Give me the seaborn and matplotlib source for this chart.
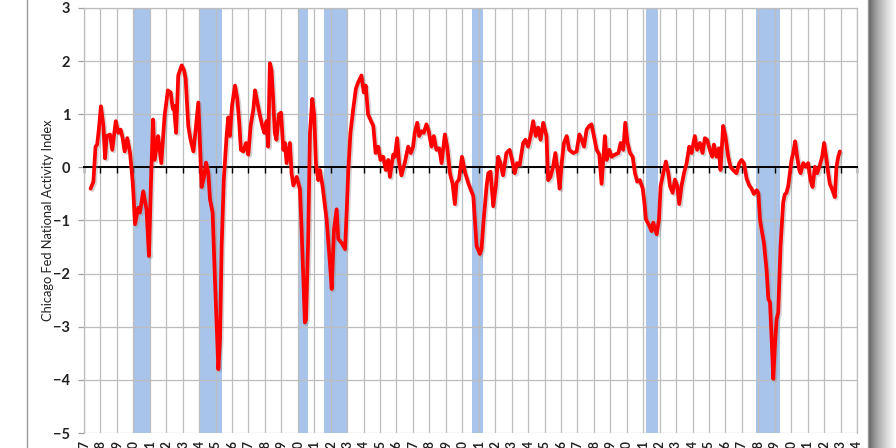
import numpy as np
import matplotlib
matplotlib.use('Agg')
import matplotlib.pyplot as plt
import matplotlib.patheffects as pe
from matplotlib.patches import Rectangle
import seaborn as sns

# values (year, index value)
years = [
    1967.40, 1967.57, 1967.70, 1967.80, 1967.90, 1968.03, 1968.18, 1968.28, 1968.38, 1968.58,
    1968.72, 1968.93, 1969.09, 1969.23, 1969.35, 1969.47, 1969.63, 1969.80, 1969.96, 1970.00,
    1970.10, 1970.30, 1970.40, 1970.60, 1970.80, 1970.95, 1971.07, 1971.20, 1971.30, 1971.50,
    1971.70, 1971.90, 1972.10, 1972.27, 1972.40, 1972.47, 1972.60, 1972.73, 1972.94, 1973.08,
    1973.18, 1973.34, 1973.48, 1973.65, 1973.75, 1973.95, 1974.05, 1974.15, 1974.30, 1974.42,
    1974.56, 1974.66, 1974.82, 1974.96, 1975.17, 1975.27, 1975.37, 1975.50, 1975.67, 1975.77,
    1975.87, 1976.00, 1976.18, 1976.32, 1976.44, 1976.54, 1976.69, 1976.85, 1976.99, 1977.13,
    1977.30, 1977.40, 1977.54, 1977.70, 1977.84, 1977.96, 1978.10, 1978.20, 1978.30, 1978.40,
    1978.50, 1978.60, 1978.70, 1978.85, 1978.98, 1979.12, 1979.22, 1979.32, 1979.52, 1979.62,
    1979.73, 1979.93, 1980.13, 1980.23, 1980.43, 1980.50, 1980.62, 1980.74, 1980.88, 1981.00,
    1981.10, 1981.24, 1981.34, 1981.50, 1981.75, 1981.95, 1982.06, 1982.20, 1982.36, 1982.46,
    1982.66, 1982.87, 1982.97, 1983.07, 1983.20, 1983.37, 1983.53, 1983.67, 1983.87, 1984.01,
    1984.13, 1984.27, 1984.41, 1984.59, 1984.73, 1984.89, 1985.03, 1985.19, 1985.35, 1985.50,
    1985.60, 1985.80, 1985.90, 1986.04, 1986.16, 1986.30, 1986.50, 1986.71, 1986.87, 1987.01,
    1987.11, 1987.26, 1987.38, 1987.52, 1987.66, 1987.82, 1987.96, 1988.13, 1988.27, 1988.43,
    1988.60, 1988.74, 1988.94, 1989.08, 1989.25, 1989.41, 1989.55, 1989.65, 1989.80, 1989.98,
    1990.18, 1990.38, 1990.67, 1990.87, 1991.07, 1991.17, 1991.30, 1991.48, 1991.58, 1991.72,
    1991.88, 1992.04, 1992.18, 1992.32, 1992.48, 1992.68, 1992.88, 1993.03, 1993.19, 1993.33,
    1993.49, 1993.70, 1993.84, 1994.00, 1994.15, 1994.31, 1994.47, 1994.61, 1994.76, 1994.92,
    1995.12, 1995.22, 1995.36, 1995.52, 1995.66, 1995.82, 1995.92, 1996.05, 1996.18, 1996.35,
    1996.50, 1996.75, 1996.95, 1997.12, 1997.26, 1997.40, 1997.56, 1997.72, 1997.86, 1998.03,
    1998.17, 1998.33, 1998.47, 1998.67, 1998.78, 1998.94, 1999.08, 1999.28, 1999.49, 1999.63,
    1999.79, 1999.91, 2000.05, 2000.20, 2000.36, 2000.50, 2000.64, 2000.80, 2000.97, 2001.05,
    2001.17, 2001.37, 2001.51, 2001.61, 2001.82, 2001.96, 2002.06, 2002.22, 2002.38, 2002.53,
    2002.63, 2002.79, 2002.93, 2003.07, 2003.19, 2003.33, 2003.48, 2003.64, 2003.80, 2003.94,
    2004.14, 2004.28, 2004.45, 2004.61, 2004.75, 2004.89, 2005.05, 2005.20, 2005.30, 2005.46,
    2005.60, 2005.70, 2005.86, 2006.00, 2006.17, 2006.31, 2006.47, 2006.67, 2006.84, 2006.98,
    2007.12, 2007.29, 2007.45, 2007.59, 2007.73, 2007.90, 2008.00, 2008.10, 2008.20, 2008.34,
    2008.50, 2008.61, 2008.71, 2008.81, 2008.91, 2009.01, 2009.11, 2009.21, 2009.35, 2009.51,
    2009.61, 2009.71, 2009.82, 2009.92, 2010.02, 2010.12, 2010.24, 2010.36, 2010.49, 2010.57,
    2010.73, 2010.89, 2011.03, 2011.17, 2011.30, 2011.44, 2011.58, 2011.74, 2011.88, 2012.00,
    2012.15, 2012.25, 2012.35, 2012.51, 2012.65, 2012.75, 2012.86, 2012.96,
]
cfnai = [
    -0.40, -0.27, 0.39, 0.43, 0.71, 1.15, 0.78, 0.17, 0.59, 0.62,
    0.33, 0.87, 0.65, 0.71, 0.55, 0.30, 0.55, 0.27, -0.27, -0.47,
    -1.07, -0.76, -0.85, -0.45, -0.79, -1.67, -0.30, 0.90, 0.14, 0.59,
    0.08, 0.97, 1.45, 1.41, 1.10, 1.16, 0.65, 1.73, 1.92, 1.83,
    1.67, 0.78, 0.52, 0.30, 0.59, 1.22, 0.46, -0.37, -0.18, 0.09,
    -0.11, -0.60, -0.85, -2.10, -3.80, -3.23, -1.48, -0.23, 0.59, 0.94,
    0.59, 1.16, 1.54, 1.29, 0.84, 0.33, 0.30, 0.46, 0.24, 0.78,
    1.10, 1.45, 1.22, 0.97, 0.78, 0.65, 0.87, 0.39, 1.96, 1.83,
    1.29, 0.65, 0.52, 1.00, 1.03, 0.33, 0.46, 0.08, 0.46, -0.11,
    -0.34, -0.18, -0.41, -1.17, -2.92, -2.86, -1.48, 0.65, 1.29, 0.97,
    0.08, -0.24, -0.05, -0.34, -0.98, -1.79, -2.29, -1.17, -0.79, -1.35,
    -1.42, -1.54, -0.85, -0.05, 0.65, 1.10, 1.48, 1.60, 1.73, 1.41,
    1.54, 1.00, 0.90, 0.78, 0.27, 0.39, 0.14, 0.20, -0.05, 0.14,
    -0.18, 0.24, 0.20, 0.55, 0.08, -0.15, 0.08, 0.39, 0.27, 0.39,
    0.65, 0.84, 0.59, 0.68, 0.65, 0.81, 0.68, 0.39, 0.59, 0.33,
    0.36, 0.08, 0.62, 0.39, -0.11, -0.31, -0.69, -0.29, -0.23, 0.20,
    -0.11, -0.31, -0.54, -1.48, -1.63, -1.54, -0.98, -0.35, -0.11, -0.08,
    -0.73, -0.35, 0.20, 0.08, -0.15, 0.27, 0.33, 0.14, -0.11, 0.08,
    0.04, 0.46, 0.52, 0.39, 0.59, 0.87, 0.59, 0.75, 0.52, 0.84,
    0.59, -0.24, -0.18, 0.01, 0.27, -0.11, -0.40, 0.10, 0.46, 0.59,
    0.33, 0.27, 0.30, 0.62, 0.52, 0.39, 0.71, 0.78, 0.81, 0.55,
    0.33, 0.24, -0.31, 0.59, 0.14, 0.33, 0.20, 0.24, 0.27, 0.46,
    0.33, 0.84, 0.46, 0.27, 0.20, -0.11, -0.27, -0.24, -0.40, -0.60,
    -0.98, -1.10, -1.20, -1.04, -1.26, -0.98, -0.35, -0.11, 0.11, -0.11,
    -0.35, -0.48, -0.23, -0.35, -0.69, -0.35, -0.11, 0.08, 0.39, 0.27,
    0.59, 0.33, 0.46, 0.27, 0.55, 0.52, 0.33, 0.20, 0.43, 0.20,
    0.36, -0.05, 0.78, 0.59, 0.20, 0.01, -0.05, -0.11, 0.08, 0.14,
    0.08, -0.21, -0.34, -0.40, -0.50, -0.43, -0.48, -0.98, -1.17, -1.42,
    -1.92, -2.48, -2.54, -3.23, -3.98, -3.36, -2.86, -2.73, -1.48, -0.66,
    -0.51, -0.48, -0.35, -0.11, 0.14, 0.27, 0.49, 0.20, -0.05, -0.11,
    0.08, 0.01, 0.08, -0.24, -0.37, 0.01, -0.11, 0.04, 0.20, 0.46,
    0.14, -0.11, -0.31, -0.43, -0.56, 0.01, 0.20, 0.30,
]

# recession bands (start, end) as drawn in the reference
rec_start = [1970.0, 1974.0, 1980.08, 1981.58, 1990.6, 2001.16, 2007.85]
rec_end = [1971.05, 1975.37, 1980.65, 1983.03, 1991.26, 2001.93, 2009.3]

tick_years = list(range(1967, 2015))
tick_labels = [str(y) for y in tick_years]
y_ticks = [3, 2, 1, 0, -1, -2, -3, -4, -5]

sns.set_theme(style='whitegrid')
plt.rcParams['font.family'] = ['Lato', 'DejaVu Sans']

W, H = 896, 448
fig = plt.figure(figsize=(W / 100, H / 100), dpi=100)
fig.patch.set_facecolor('white')

# chart frame and its drop shadow on the right
fig.patches.append(Rectangle((27 / W, -0.05), (868 - 27) / W, 1.1,
                             transform=fig.transFigure, fill=False,
                             ec='#9c9c9c', lw=1.0, zorder=0))
sh = fig.add_axes([868 / W, 0, 28 / W, 1])
grad = np.linspace(0, 1, 64) ** 0.6
sh.imshow(np.tile(0.28 + 0.72 * grad, (8, 1)), cmap='gray', vmin=0, vmax=1,
          aspect='auto', extent=[0, 1, 0, 1])
sh.axis('off')

ax = fig.add_axes([84 / W, 15 / H, 773 / W, 425 / H])
ax.set_facecolor('white')

for s, e in zip(rec_start, rec_end):
    ax.axvspan(s, e, color='#a8c4ea', lw=0, zorder=0.3)

sns.lineplot(x=years, y=cfnai, ax=ax, color='#ff0000', lw=2.7, zorder=3,
             path_effects=[pe.SimpleLineShadow(offset=(1.2, -1.2), shadow_color='#888888', alpha=0.35),
                           pe.Normal()])

ax.set_xlim(1967, 2014)
ax.set_ylim(-5, 3)
ax.set_yticks(y_ticks)
ax.set_xticks(tick_years)
ax.grid(True, color='#bdbdbd', lw=0.9)
ax.set_axisbelow(True)

# x axis sits on the zero line with small ticks below it
ax.spines['bottom'].set_position(('data', 0))
ax.spines['bottom'].set_color('black')
ax.spines['bottom'].set_linewidth(1.4)
ax.spines['bottom'].set_zorder(2.6)
for side in ['left', 'right', 'top']:
    ax.spines[side].set_color('#bdbdbd')
    ax.spines[side].set_linewidth(0.9)
ax.tick_params(axis='x', which='major', bottom=True, direction='out', length=4,
               width=1.0, color='black', labelbottom=False)
ax.tick_params(axis='y', left=True, length=4, width=0.9, color='#a0a0a0', pad=6)
for lab in ax.get_yticklabels():
    lab.set_fontweight('bold')
    lab.set_fontsize(10.5)
    lab.set_color('#222222')

# year labels at the bottom of the plot area
sec = ax.secondary_xaxis('bottom')
sec.set_xticks(tick_years)
sec.set_xticklabels(tick_labels, rotation=90, fontsize=9, fontweight='bold', color='#222222')
sec.tick_params(length=0, pad=5)
sec.spines['bottom'].set_visible(False)

ax.set_ylabel('Chicago Fed National Activity Index', fontsize=9.3, color='#222222')
ax.yaxis.set_label_coords(-(84 - 54) / 773, 0.5)
ax.set_xlabel('')

fig.savefig('out.png', dpi=100)
